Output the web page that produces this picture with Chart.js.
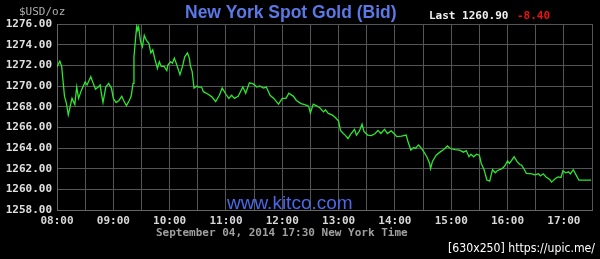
<!DOCTYPE html>
<html>
<head>
<meta charset="utf-8">
<script src="https://cdn.jsdelivr.net/npm/chart.js@4"></script>
<style>
  html, body { margin: 0; padding: 0; background: #000; }
  #wrap { position: relative; width: 600px; height: 259px; }
  canvas { display: block; }
</style>
</head>
<body>
<div id="wrap"><canvas id="c" width="600" height="259"></canvas></div>
<script>
const times = ["08:00","08:03","08:05","08:06","08:08","08:10","08:12","08:14","08:16","08:19","08:21","08:23","08:26","08:30","08:32","08:36","08:38","08:41","08:44","08:46","08:47","08:49","08:52","08:55","08:58",
"09:00","09:03","09:06","09:09","09:11","09:14","09:17","09:19","09:21","09:22","09:24","09:25","09:26","09:27","09:29","09:31","09:33","09:35","09:38","09:40","09:42","09:44","09:47","09:49","09:51","09:54","09:57","09:58",
"10:01","10:03","10:05","10:07","10:11","10:14","10:16","10:19","10:21","10:22","10:24","10:26","10:29","10:31","10:34","10:36","10:41","10:45","10:49","10:53","10:56",
"11:00","11:03","11:06","11:09","11:13","11:18","11:21","11:25","11:29","11:33","11:36","11:40","11:43","11:47","11:51","11:56",
"12:00","12:04","12:07","12:12","12:15","12:20","12:24","12:28","12:30","12:33","12:37","12:40","12:44","12:46","12:49","12:53","12:56",
"13:00","13:02","13:05","13:07","13:10","13:13","13:17","13:19","13:22","13:25","13:27","13:31","13:35","13:39","13:42","13:45","13:49","13:52","13:56","13:59",
"14:02","14:07","14:12","14:14","14:17","14:20","14:22","14:25","14:27","14:30","14:34","14:37","14:38","14:40","14:44","14:48","14:52","14:56","14:59",
"15:04","15:09","15:13","15:16","15:19","15:21","15:24","15:27","15:30","15:32","15:35","15:38","15:41","15:44","15:47","15:49","15:54","15:57",
"16:00","16:02","16:04","16:07","16:10","16:13","16:15","16:18","16:20","16:26","16:29","16:33","16:35","16:38","16:41","16:45","16:47","16:51","16:54","16:57","16:59",
"17:02","17:05","17:07","17:10","17:13","17:16","17:21","17:29"];
const prices = [1271.87,1272.4,1271.9,1270.9,1269.0,1268.35,1267.2,1268.0,1268.8,1268.2,1269.9,1268.8,1269.6,1270.4,1270.1,1270.9,1270.4,1269.7,1269.9,1270.1,1269.45,1268.4,1269.9,1270.25,1269.8,
1268.8,1268.4,1268.6,1269.0,1268.6,1268.1,1268.6,1269.0,1270.25,1272.8,1274.9,1275.8,1275.4,1275.7,1274.3,1273.8,1274.9,1274.45,1274.1,1273.2,1273.5,1272.7,1271.7,1272.35,1271.9,1271.9,1271.5,1272.0,
1272.35,1272.2,1272.7,1272.2,1271.1,1272.0,1272.8,1273.2,1272.7,1272.0,1271.4,1269.8,1270.0,1269.9,1269.9,1269.45,1269.2,1268.95,1268.5,1269.1,1269.8,
1269.2,1268.8,1269.1,1268.8,1269.0,1269.9,1269.3,1270.3,1270.2,1269.9,1270.0,1269.8,1269.9,1269.1,1268.8,1268.25,
1268.8,1268.8,1269.3,1269.0,1268.6,1268.3,1268.2,1268.05,1267.4,1268.25,1268.05,1267.9,1267.5,1267.7,1267.35,1267.2,1267.0,
1266.6,1265.7,1265.4,1265.25,1264.9,1265.35,1265.8,1265.25,1265.6,1266.3,1265.6,1265.25,1265.2,1265.4,1265.7,1265.4,1265.8,1265.4,1265.65,1265.4,
1265.1,1265.15,1265.25,1264.6,1263.8,1264.05,1263.95,1264.3,1264.1,1263.75,1263.15,1262.5,1262.0,1262.7,1263.3,1263.6,1263.85,1264.2,1263.95,
1263.85,1263.8,1263.6,1263.75,1263.15,1263.4,1263.15,1263.4,1263.3,1262.5,1261.9,1260.9,1260.8,1261.9,1261.6,1261.8,1262.0,1262.25,
1262.75,1262.5,1262.75,1263.15,1262.7,1262.4,1262.35,1261.9,1261.55,1261.5,1261.4,1261.5,1261.3,1261.5,1261.2,1260.95,1260.7,1261.05,1261.2,1261.15,1261.8,
1261.6,1261.7,1261.5,1261.9,1261.4,1260.9,1260.9,1260.9];

const titleText = "New York Spot Gold (Bid)";
const lastLabel = "Last 1260.90";
const changeLabel = "-8.40";
const unitLabel = "$USD/oz";
const siteLabel = "www.kitco.com";
const dateLabel = "September 04, 2014 17:30 New York Time";
const watermark = "[630x250] https://upic.me/";
const yMin = 1258, yMax = 1276, yStep = 2;
const startTime = "08:00", endTime = "17:30";

function toMin(s) { const p = s.split(":"); return (+p[0]) * 60 + (+p[1]); }
function fmt(m) { const h = Math.floor(m / 60), mm = m % 60; return String(h).padStart(2, "0") + ":" + String(mm).padStart(2, "0"); }

const t0 = toMin(startTime), t1 = toMin(endTime);
const points = times.map((t, i) => ({ x: toMin(t), y: prices[i] }));

const mono = "'DejaVu Sans Mono', monospace";

const decor = {
  id: "decor",
  beforeDraw(chart) {
    const ctx = chart.ctx;
    ctx.save();
    ctx.fillStyle = "#000";
    ctx.fillRect(0, 0, chart.width, chart.height);
    ctx.restore();
  },
  afterDraw(chart) {
    const ctx = chart.ctx;
    ctx.save();
    ctx.textBaseline = "alphabetic";
    ctx.textAlign = "left";
    ctx.font = "bold 17.5px 'Liberation Sans', Arial, sans-serif";
    ctx.fillStyle = "#5a78e6";
    ctx.fillText(titleText, 185, 18);
    ctx.font = "bold 11px " + mono;
    ctx.fillStyle = "#f0f0f0";
    ctx.fillText(lastLabel, 429, 19);
    ctx.fillStyle = "#ee1111";
    ctx.fillText(changeLabel, 517, 19);
    ctx.font = "11px " + mono;
    ctx.fillStyle = "#b0b0b0";
    ctx.fillText(unitLabel, 19, 15);
    ctx.font = "19px 'Liberation Sans', Arial, sans-serif";
    ctx.fillStyle = "#4a68e8";
    ctx.fillText(siteLabel, 227, 209);
    ctx.font = "bold 11px " + mono;
    ctx.fillStyle = "#a0a0a0";
    ctx.fillText(dateLabel, 156, 236);
    ctx.font = "13px 'DejaVu Sans Condensed', 'DejaVu Sans', sans-serif";
    ctx.fillStyle = "#ffffff";
    ctx.fillText(watermark, 448, 252, 147);
    ctx.restore();
  }
};

new Chart(document.getElementById("c"), {
  type: "line",
  data: {
    datasets: [{
      data: points,
      borderColor: "#2ee62e",
      borderWidth: 1.3,
      pointRadius: 0,
      tension: 0,
      fill: false
    }]
  },
  options: {
    responsive: false,
    animation: false,
    layout: { padding: { top: 24, right: 8, left: 0, bottom: 0 } },
    plugins: { legend: { display: false }, tooltip: { enabled: false }, title: { display: false } },
    scales: {
      x: {
        type: "linear",
        min: t0,
        max: t1,
        offset: false,
        afterBuildTicks(scale) {
          const t = [];
          for (let v = t0; v <= t1; v += 30) t.push({ value: v });
          scale.ticks = t;
        },
        afterFit(scale) { scale.height = 49; },
        grid: { color: "#555", lineWidth: 1, drawTicks: false },
        border: { color: "#666" },
        ticks: {
          padding: 5,
          maxRotation: 0,
          autoSkip: false,
          color: "#d8d8d8",
          font: { family: "DejaVu Sans Mono", size: 11, weight: "bold" },
          callback: (v) => (v % 60 === 0 ? fmt(v) : "")
        }
      },
      y: {
        min: yMin,
        max: yMax,
        afterFit(scale) { scale.width = 57; },
        grid: { color: "#555", lineWidth: 1, drawTicks: false },
        border: { color: "#666" },
        ticks: {
          stepSize: yStep,
          padding: 5,
          color: "#e0e0e0",
          font: { family: "DejaVu Sans Mono", size: 11, weight: "bold" },
          callback: (v) => Number(v).toFixed(2)
        }
      }
    }
  },
  plugins: [decor]
});
</script>
</body>
</html>
